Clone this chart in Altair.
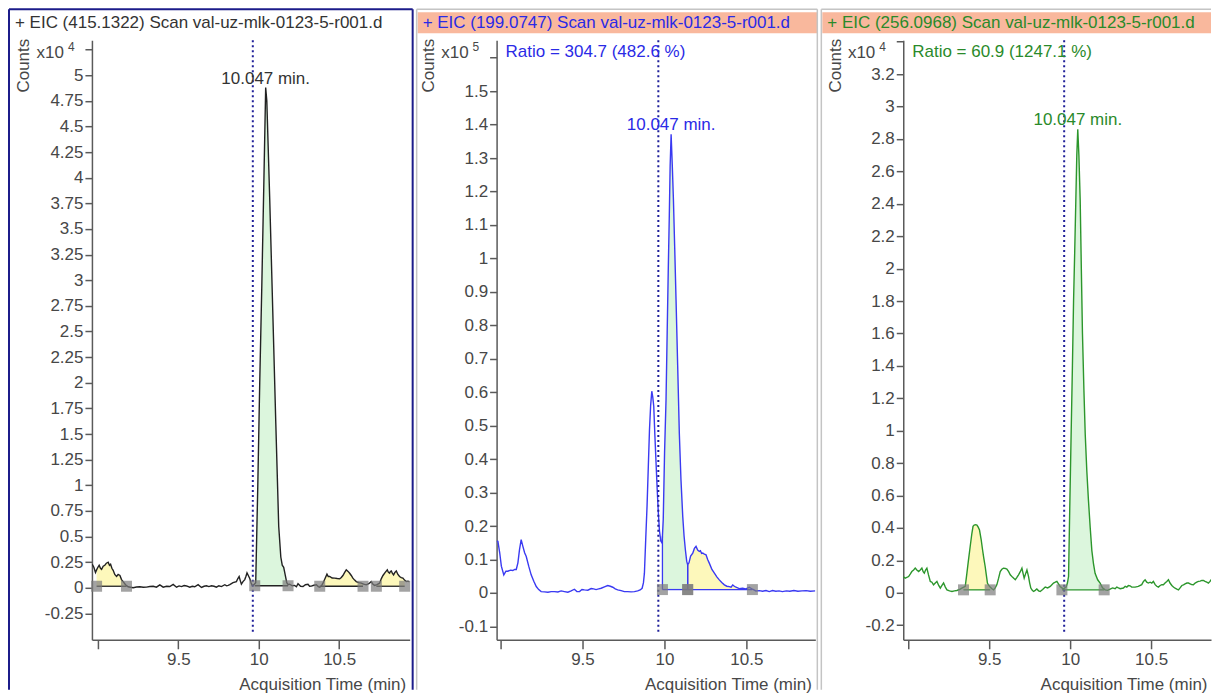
import altair as alt
import pandas as pd
import numpy as np

FONT = "Liberation Sans"

# ---------------- data ----------------
HEADERS = ["+ EIC (415.1322) Scan val-uz-mlk-0123-5-r001.d",
           "+ EIC (199.0747) Scan val-uz-mlk-0123-5-r001.d",
           "+ EIC (256.0968) Scan val-uz-mlk-0123-5-r001.d"]
RATIOS = ["", "Ratio = 304.7 (482.6 %)", "Ratio = 60.9 (1247.1 %)"]
RT_LABEL = "10.047 min."
RT_LINE = 9.963
X_TICKS = [9.0, 9.5, 10.0, 10.5]
X_TITLE = "Acquisition Time (min)"
Y_TITLE = "Counts"
SCALE_BASE = "x10"

Y1_TICKS = [-0.25, 0.0, 0.25, 0.5, 0.75, 1.0, 1.25, 1.5, 1.75, 2.0, 2.25, 2.5, 2.75,
            3.0, 3.25, 3.5, 3.75, 4.0, 4.25, 4.5, 4.75, 5.0]
Y2_TICKS = [-0.1, 0.0, 0.1, 0.2, 0.3, 0.4, 0.5, 0.6, 0.7, 0.8, 0.9, 1.0, 1.1, 1.2,
            1.3, 1.4, 1.5]
Y3_TICKS = [-0.2, 0.0, 0.2, 0.4, 0.6, 0.8, 1.0, 1.2, 1.4, 1.6, 1.8, 2.0, 2.2, 2.4,
            2.6, 2.8, 3.0, 3.2]
Y_TOPS = [5.25, 1.6, 3.4]
Y_EXP = ["4", "5", "4"]

# panel 1 : EIC 415.1322 (x10^4 counts)
T1 = [8.965, 8.975, 8.985, 8.992, 9.000, 9.008, 9.016, 9.023, 9.033, 9.043,
      9.053, 9.064, 9.072, 9.079, 9.087, 9.095, 9.105, 9.116, 9.126, 9.137,
      9.147, 9.157, 9.172, 9.188, 9.203, 9.219, 9.240, 9.261, 9.282, 9.302,
      9.323, 9.344, 9.364, 9.385, 9.406, 9.427, 9.447, 9.468, 9.489, 9.505,
      9.520, 9.536, 9.551, 9.571, 9.587, 9.602, 9.623, 9.644, 9.660, 9.675,
      9.690, 9.706, 9.722, 9.737, 9.752, 9.768, 9.789, 9.800, 9.810, 9.820,
      9.840, 9.861, 9.870, 9.878, 9.885, 9.892, 9.902, 9.913, 9.920, 9.927,
      9.935, 9.944, 9.952, 9.960, 9.970, 9.981, 9.994, 10.006, 10.019, 10.031,
      10.043, 10.050, 10.068, 10.087, 10.106, 10.124, 10.137, 10.146, 10.155, 10.165,
      10.174, 10.183, 10.192, 10.208, 10.223, 10.234, 10.244, 10.260, 10.275, 10.290,
      10.306, 10.316, 10.327, 10.342, 10.358, 10.370, 10.379, 10.390, 10.399, 10.412,
      10.424, 10.432, 10.441, 10.456, 10.472, 10.488, 10.503, 10.513, 10.523, 10.534,
      10.544, 10.555, 10.565, 10.575, 10.585, 10.596, 10.606, 10.622, 10.637, 10.652,
      10.668, 10.684, 10.699, 10.710, 10.720, 10.735, 10.751, 10.762, 10.772, 10.786,
      10.799, 10.806, 10.813, 10.818, 10.824, 10.831, 10.838, 10.846, 10.855, 10.865,
      10.875, 10.886, 10.896, 10.906, 10.917, 10.928, 10.937]
V1 = [0.23, 0.20, 0.15, 0.175, 0.20, 0.22, 0.19, 0.18, 0.21, 0.22,
      0.24, 0.25, 0.22, 0.23, 0.19, 0.17, 0.13, 0.11, 0.13, 0.12,
      0.08, 0.06, 0.03, 0.01, 0.005, 0.0, 0.008, 0.01, 0.005, 0.006,
      0.012, 0.015, 0.006, 0.028, 0.006, 0.015, 0.012, 0.033, 0.006, 0.018,
      0.012, 0.022, 0.018, 0.006, 0.015, 0.01, 0.03, 0.003, 0.015, 0.02,
      0.012, 0.02, 0.015, 0.006, 0.02, 0.012, 0.03, 0.02, 0.023, 0.03,
      0.05, 0.06, 0.09, 0.11, 0.07, 0.035, 0.06, 0.08, 0.11, 0.145,
      0.12, 0.09, 0.05, 0.02, 0.03, 0.05, 1.0, 2.0, 2.95, 3.9,
      4.88, 4.75, 3.8, 2.7, 1.6, 0.6, 0.3, 0.22, 0.2, 0.12,
      0.05, 0.03, 0.035, 0.02, 0.023, 0.01, 0.04, 0.015, 0.013, 0.03,
      0.035, 0.015, 0.016, 0.025, 0.029, 0.012, 0.006, 0.02, 0.045, 0.09,
      0.133, 0.11, 0.11, 0.095, 0.094, 0.09, 0.087, 0.1, 0.12, 0.15,
      0.175, 0.16, 0.142, 0.12, 0.094, 0.075, 0.061, 0.05, 0.045, 0.035,
      0.029, 0.04, 0.06, 0.035, 0.023, 0.03, 0.045, 0.09, 0.12, 0.15,
      0.175, 0.15, 0.142, 0.16, 0.165, 0.14, 0.126, 0.15, 0.165, 0.13,
      0.11, 0.1, 0.094, 0.075, 0.061, 0.065, 0.058]

# panel 2 : EIC 199.0747 (x10^5 counts)
T2 = [8.976, 8.984, 8.995, 9.005, 9.020, 9.033, 9.045, 9.060, 9.075, 9.086,
      9.096, 9.106, 9.116, 9.126, 9.136, 9.147, 9.157, 9.172, 9.187, 9.203,
      9.218, 9.233, 9.248, 9.269, 9.289, 9.309, 9.329, 9.350, 9.370, 9.390,
      9.411, 9.431, 9.451, 9.466, 9.482, 9.497, 9.512, 9.533, 9.553, 9.568,
      9.583, 9.599, 9.614, 9.634, 9.654, 9.670, 9.685, 9.700, 9.715, 9.736,
      9.756, 9.776, 9.797, 9.817, 9.837, 9.852, 9.864, 9.872, 9.878, 9.886,
      9.894, 9.902, 9.909, 9.916, 9.923, 9.929, 9.935, 9.942, 9.949, 9.956,
      9.963, 9.970, 9.978, 9.986, 9.993, 10.001, 10.010, 10.017, 10.024, 10.030,
      10.035, 10.041, 10.048, 10.055, 10.063, 10.071, 10.081, 10.091, 10.101, 10.112,
      10.120, 10.128, 10.136, 10.142, 10.150, 10.160, 10.173, 10.183, 10.193, 10.203,
      10.213, 10.220, 10.227, 10.234, 10.244, 10.254, 10.264, 10.274, 10.290, 10.305,
      10.320, 10.335, 10.350, 10.366, 10.381, 10.396, 10.407, 10.417, 10.427, 10.437,
      10.457, 10.477, 10.497, 10.518, 10.528, 10.538, 10.558, 10.579, 10.599, 10.620,
      10.640, 10.660, 10.680, 10.700, 10.720, 10.744, 10.765, 10.790, 10.815, 10.840,
      10.865, 10.890, 10.921]
V2 = [0.155, 0.154, 0.12, 0.08, 0.054, 0.065, 0.065, 0.068, 0.067, 0.07,
      0.07, 0.09, 0.13, 0.159, 0.14, 0.12, 0.109, 0.08, 0.054, 0.035,
      0.019, 0.01, 0.004, 0.003, 0.002, 0.004, 0.004, 0.003, 0.006, 0.004,
      0.002, 0.006, 0.011, 0.004, 0.004, 0.01, 0.009, 0.008, 0.013, 0.012,
      0.01, 0.012, 0.014, 0.018, 0.022, 0.02, 0.017, 0.012, 0.009, 0.007,
      0.004, 0.004, 0.003, 0.004, 0.006, 0.009, 0.014, 0.03, 0.059, 0.16,
      0.258, 0.38, 0.488, 0.56, 0.603, 0.585, 0.558, 0.47, 0.389, 0.31,
      0.239, 0.185, 0.155, 0.149, 0.22, 0.42, 0.578, 0.78, 0.977, 1.13,
      1.276, 1.371, 1.28, 1.177, 1.03, 0.877, 0.68, 0.478, 0.34, 0.228,
      0.17, 0.129, 0.095, 0.084, 0.09, 0.11, 0.119, 0.133, 0.139, 0.128,
      0.124, 0.126, 0.118, 0.119, 0.116, 0.114, 0.1, 0.089, 0.07, 0.059,
      0.048, 0.039, 0.031, 0.024, 0.02, 0.019, 0.017, 0.024, 0.02, 0.017,
      0.013, 0.014, 0.012, 0.017, 0.014, 0.011, 0.006, 0.007, 0.005, 0.007,
      0.004, 0.007, 0.005, 0.006, 0.004, 0.006, 0.005, 0.007, 0.005, 0.006,
      0.007, 0.005, 0.006]

# panel 3 : EIC 256.0968 (x10^4 counts)
T3 = [8.969, 8.981, 9.002, 9.012, 9.022, 9.033, 9.043, 9.053, 9.064, 9.074,
      9.084, 9.092, 9.099, 9.107, 9.115, 9.125, 9.136, 9.146, 9.156, 9.167,
      9.177, 9.188, 9.198, 9.208, 9.218, 9.229, 9.239, 9.255, 9.270, 9.285,
      9.300, 9.316, 9.331, 9.352, 9.362, 9.372, 9.383, 9.393, 9.400, 9.407,
      9.416, 9.424, 9.432, 9.440, 9.450, 9.459, 9.467, 9.475, 9.482, 9.489,
      9.497, 9.506, 9.517, 9.527, 9.537, 9.547, 9.558, 9.568, 9.578, 9.588,
      9.599, 9.609, 9.620, 9.630, 9.645, 9.661, 9.671, 9.681, 9.692, 9.702,
      9.709, 9.716, 9.724, 9.733, 9.743, 9.750, 9.757, 9.766, 9.774, 9.784,
      9.794, 9.805, 9.815, 9.830, 9.846, 9.861, 9.877, 9.887, 9.897, 9.908,
      9.918, 9.928, 9.938, 9.949, 9.959, 9.967, 9.975, 9.983, 9.990, 9.998,
      10.006, 10.014, 10.021, 10.028, 10.035, 10.041, 10.047, 10.054, 10.062, 10.069,
      10.076, 10.085, 10.093, 10.103, 10.113, 10.124, 10.134, 10.144, 10.154, 10.170,
      10.185, 10.200, 10.216, 10.231, 10.247, 10.262, 10.278, 10.288, 10.298, 10.309,
      10.329, 10.340, 10.350, 10.360, 10.370, 10.380, 10.401, 10.421, 10.442, 10.453,
      10.463, 10.473, 10.483, 10.494, 10.504, 10.514, 10.525, 10.535, 10.545, 10.556,
      10.566, 10.576, 10.586, 10.597, 10.607, 10.617, 10.628, 10.638, 10.648, 10.659,
      10.669, 10.679, 10.690, 10.700, 10.710, 10.721, 10.731, 10.741, 10.751, 10.761,
      10.772, 10.782, 10.792, 10.803, 10.813, 10.823, 10.833, 10.844, 10.854, 10.864,
      10.874]
V3 = [0.10, 0.09, 0.10, 0.115, 0.131, 0.14, 0.152, 0.14, 0.131, 0.14,
      0.152, 0.13, 0.121, 0.14, 0.152, 0.11, 0.07, 0.065, 0.049, 0.06,
      0.07, 0.045, 0.029, 0.045, 0.06, 0.035, 0.018, 0.012, 0.008, 0.012,
      0.014, 0.02, 0.029, 0.04, 0.12, 0.203, 0.29, 0.367, 0.41, 0.418,
      0.42, 0.418, 0.405, 0.387, 0.33, 0.264, 0.21, 0.162, 0.11, 0.06,
      0.045, 0.035, 0.025, 0.018, 0.03, 0.049, 0.09, 0.131, 0.145, 0.152,
      0.15, 0.146, 0.13, 0.111, 0.095, 0.08, 0.095, 0.111, 0.13, 0.152,
      0.12, 0.09, 0.115, 0.141, 0.1, 0.06, 0.029, 0.015, 0.008, 0.015,
      0.023, 0.012, 0.008, 0.02, 0.035, 0.03, 0.039, 0.05, 0.06, 0.065,
      0.07, 0.055, 0.039, 0.03, 0.023, 0.03, 0.035, 0.06, 0.10, 0.55,
      0.98, 1.4, 1.80, 2.1, 2.42, 2.7, 2.86, 2.7, 2.42, 2.0,
      1.60, 1.25, 0.98, 0.75, 0.57, 0.4, 0.26, 0.18, 0.12, 0.08,
      0.06, 0.03, 0.018, 0.015, 0.023, 0.03, 0.025, 0.035, 0.03, 0.025,
      0.029, 0.04, 0.035, 0.045, 0.043, 0.035, 0.035, 0.039, 0.05, 0.07,
      0.08, 0.065, 0.06, 0.065, 0.06, 0.07, 0.05, 0.04, 0.035, 0.045,
      0.05, 0.049, 0.06, 0.07, 0.08, 0.06, 0.045, 0.035, 0.028, 0.022,
      0.018, 0.03, 0.045, 0.049, 0.055, 0.06, 0.06, 0.055, 0.05, 0.049,
      0.06, 0.065, 0.07, 0.072, 0.076, 0.076, 0.07, 0.065, 0.06, 0.07,
      0.085]

# integrated regions: start, end, baseline, kind
R1_START = [8.992, 9.975, 10.379, 10.731]
R1_END = [9.178, 10.182, 10.648, 10.907]
R1_BASE = [0.015, 0.02, 0.015, 0.015]
R1_KIND = ["other", "main", "other", "other"]
R2_START = [9.988, 10.142]
R2_END = [10.142, 10.537]
R2_BASE = [0.01, 0.01]
R2_KIND = ["main", "other"]
R3_START = [9.341, 9.949]
R3_END = [9.506, 10.21]
R3_BASE = [0.018, 0.018]
R3_KIND = ["other", "main"]

# ---------------- styles ----------------
AX = "#5a5a5a"
LAB = "#474747"
GREEN_FILL = "#dcf6dd"
YELLOW_FILL = "#fdf8bb"
DOT = "#1f1f99"


def region_tables(t, v, starts, ends, bases, kinds, edges):
    t = np.array(t)
    v = np.array(v)
    fill_rows, seg_rows, mk_rows = [], [], []
    for i, (s, e, b, k) in enumerate(zip(starts, ends, bases, kinds)):
        inside = (t > s) & (t < e)
        ts = [s] + list(t[inside]) + [e]
        vs = [float(np.interp(s, t, v))] + list(v[inside]) + [float(np.interp(e, t, v))]
        for tt, vv in zip(ts, vs):
            fill_rows.append({"t": float(tt), "v": float(vv), "b": b, "rid": i, "kind": k})
        seg_rows.append({"x0": s, "x1": e, "y0": b, "y1": b})
        if edges:
            seg_rows.append({"x0": s, "x1": s, "y0": b, "y1": vs[0]})
            seg_rows.append({"x0": e, "x1": e, "y0": b, "y1": vs[-1]})
        mk_rows.append({"t": s, "b": b})
        mk_rows.append({"t": e, "b": b})
    return pd.DataFrame(fill_rows), pd.DataFrame(seg_rows), pd.DataFrame(mk_rows)


def panel(t, v, regions, edges, xdom, ydom, yticks, ytop, yexp, W, line_color,
          text_color, header, header_bg, frame_color, frame_w, frame_left,
          frame_right, ratio):
    H = 600
    xs = alt.Scale(domain=xdom, nice=False, zero=False)
    ys = alt.Scale(domain=ydom, nice=False, zero=False)
    one = pd.DataFrame({"k": [0]})
    fill_df, seg_df, mk_df = region_tables(t, v, *regions, edges)
    trace = pd.DataFrame({"t": t, "v": v})
    i_apex = int(np.argmax(v))
    apex = pd.DataFrame({"t": [t[i_apex]], "v": [v[i_apex]], "label": [RT_LABEL]})

    label_expr = (f"datum.value > {ytop - 1e-6} ? '' : "
                  "(datum.value < 0 ? '-' + format(-datum.value, '~g') : format(datum.value, '~g'))")
    yaxis = alt.Axis(values=yticks + [ytop], labelExpr=label_expr, grid=False,
                     domainColor=AX, tickColor=AX, domainWidth=1.5, tickWidth=1.5,
                     tickSize=7, labelPadding=2, labelFont=FONT, labelFontSize=17,
                     labelColor=LAB, labelOverlap=False, labelFlush=False,
                     labelBound=False,
                     title=Y_TITLE, titleFont=FONT, titleFontSize=17,
                     titleFontWeight="normal", titleColor=LAB, titleAngle=270,
                     titleX=-68, titleY=-2, titleAlign="right", titleBaseline="middle")
    xaxis = alt.Axis(values=X_TICKS,
                     labelExpr="datum.value < 9.2 ? '' : format(datum.value, '~g')",
                     grid=False, domainColor=AX, tickColor=AX, domainWidth=1.5,
                     tickWidth=1.5, tickSize=9, labelPadding=3, labelFont=FONT,
                     labelFontSize=17, labelColor=LAB, labelOverlap=False,
                     labelFlush=False, title=X_TITLE, titleFont=FONT, titleFontSize=17,
                     titleFontWeight="normal", titleColor=LAB, titleX=W - 4,
                     titleY=45, titleAlign="right", titleBaseline="middle")

    def X(f):
        return alt.X(f, scale=xs, axis=xaxis)

    def Y(f):
        return alt.Y(f, scale=ys, axis=yaxis)

    layers = []
    if header_bg:
        layers.append(alt.Chart(one).mark_rect(color=header_bg).encode(
            x=alt.value(frame_left + 1), x2=alt.value(frame_right if frame_right else W),
            y=alt.value(-28), y2=alt.value(-7)))
    fr = [frame_left] + ([frame_right] if frame_right else [])
    for fx in fr:
        layers.append(alt.Chart(one).mark_rule(color=frame_color, strokeWidth=frame_w).encode(
            x=alt.value(fx), y=alt.value(-31), y2=alt.value(H + 50)))
    layers.append(alt.Chart(one).mark_rule(color=frame_color, strokeWidth=frame_w).encode(
        x=alt.value(frame_left), x2=alt.value(frame_right if frame_right else W),
        y=alt.value(-31)))
    layers.append(alt.Chart(pd.DataFrame({"label": [header]})).mark_text(
        align="left", baseline="middle", font=FONT, fontSize=17, color=text_color).encode(
        x=alt.value(frame_left + 6), y=alt.value(-17), text="label:N"))
    # "x10 ^n" exponent marker of the y axis
    layers.append(alt.Chart(pd.DataFrame({"label": [SCALE_BASE]})).mark_text(
        align="right", baseline="middle", font=FONT, fontSize=17, color=LAB).encode(
        x=alt.value(-28), y=alt.value(13), text="label:N"))
    layers.append(alt.Chart(pd.DataFrame({"label": [yexp]})).mark_text(
        align="left", baseline="middle", font=FONT, fontSize=12, color=LAB).encode(
        x=alt.value(-24), y=alt.value(7), text="label:N"))

    layers.append(alt.Chart(fill_df).mark_area(clip=True).encode(
        x=X("t:Q"), y=Y("v:Q"), y2="b:Q", detail="rid:N",
        color=alt.Color("kind:N", scale=alt.Scale(domain=["main", "other"],
                                                  range=[GREEN_FILL, YELLOW_FILL]),
                        legend=None)))
    layers.append(alt.Chart(seg_df).mark_rule(color=line_color, strokeWidth=1.3).encode(
        x=X("x0:Q"), x2="x1:Q", y=Y("y0:Q"), y2="y1:Q"))
    layers.append(alt.Chart(trace).mark_line(color=line_color, strokeWidth=1.4, clip=True).encode(
        x=X("t:Q"), y=Y("v:Q")))
    layers.append(alt.Chart(pd.DataFrame({"t": [RT_LINE]})).mark_rule(
        color=DOT, strokeWidth=2, strokeDash=[2, 3]).encode(
        x=X("t:Q"), y=alt.value(0), y2=alt.value(595)))
    layers.append(alt.Chart(mk_df).mark_square(size=121, color="#7c7c7c", opacity=0.7).encode(
        x=X("t:Q"), y=Y("b:Q")))
    layers.append(alt.Chart(apex).mark_text(
        align="center", baseline="alphabetic", dy=-4, font=FONT, fontSize=17,
        color=text_color).encode(x=X("t:Q"), y=Y("v:Q"), text="label:N"))
    if ratio:
        layers.append(alt.Chart(pd.DataFrame({"label": [ratio]})).mark_text(
            align="left", baseline="middle", font=FONT, fontSize=17, color=text_color).encode(
            x=alt.value(9), y=alt.value(12), text="label:N"))
    return alt.layer(*layers).properties(width=W, height=H)


p1 = panel(T1, V1, (R1_START, R1_END, R1_BASE, R1_KIND), False,
           [8.963, 10.938], [-0.507, 5.341], Y1_TICKS, Y_TOPS[0], Y_EXP[0], 318,
           "#222222", "#333333", HEADERS[0], None, "#1c1c8a", 2, -83, 321, RATIOS[0])
p2 = panel(T2, V2, (R2_START, R2_END, R2_BASE, R2_KIND), True,
           [8.976, 10.921], [-0.140, 1.652], Y2_TICKS, Y_TOPS[1], Y_EXP[1], 319,
           "#3a3af2", "#2a2ae6", HEADERS[1], "#f9b89d", "#c4c4c4", 1.5, -80, 321, RATIOS[1])
p3 = panel(T3, V3, (R3_START, R3_END, R3_BASE, R3_KIND), False,
           [8.969, 10.870], [-0.290, 3.409], Y3_TICKS, Y_TOPS[2], Y_EXP[2], 308,
           "#2c962c", "#2a8a2a", HEADERS[2], "#f9b89d", "#c4c4c4", 1.5, -82, None, RATIOS[2])

chart = alt.hconcat(p1, p2, p3, spacing=2, padding=0).resolve_scale(
    x="independent", y="independent", color="shared").configure_view(stroke=None)

chart.save("out.html", embed_options={"renderer": "svg", "actions": False})
